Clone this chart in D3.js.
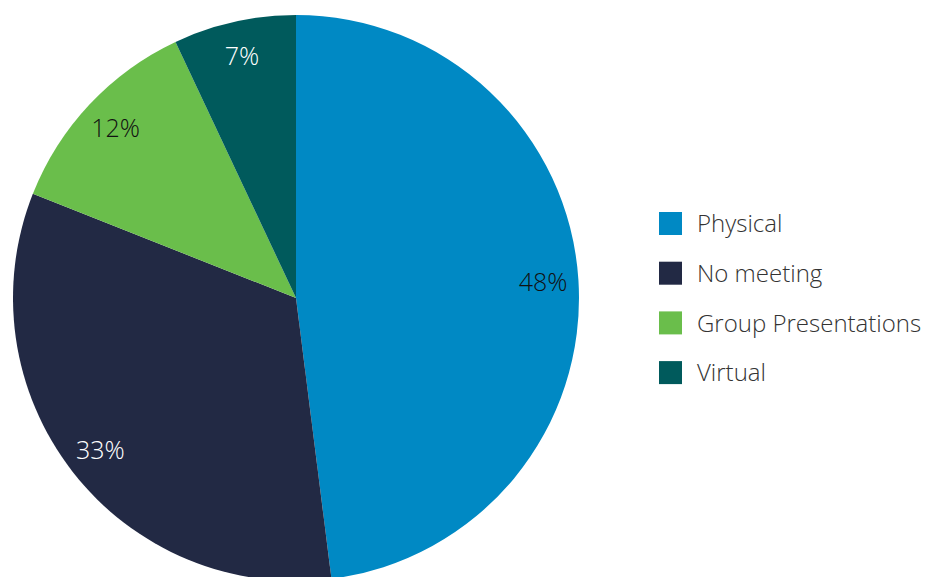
<!DOCTYPE html>
<html>
<head>
<meta charset="utf-8">
<script src="https://cdn.jsdelivr.net/npm/d3@7"></script>
<style>
  html, body { margin: 0; padding: 0; background: #fff; }
  svg { display: block; font-family: "Open Sans", sans-serif; font-weight: 300; }
</style>
</head>
<body>
<svg id="chart" width="932" height="577"></svg>
<script>
// Meeting format shares (percent)
const categories = ["Physical", "No meeting", "Group Presentations", "Virtual"];
const values = [48, 33, 12, 7];
const colors = ["#0089C4", "#222944", "#6ABE4B", "#005A5C"];
const labelColors = ["#111111", "#ffffff", "#111111", "#ffffff"];

const svg = d3.select("#chart");
const cx = 296, cy = 298, radius = 283;

const data = categories.map((c, i) => ({ name: c, value: values[i], i }));

const pie = d3.pie().value(d => d.value).sort(null);
const arc = d3.arc().innerRadius(0).outerRadius(radius);
const labelArc = d3.arc().innerRadius(radius * 0.875).outerRadius(radius * 0.875);

const color = d3.scaleOrdinal().domain(categories).range(colors);

const g = svg.append("g").attr("transform", `translate(${cx},${cy})`);
const arcs = pie(data);

g.selectAll("path.slice")
  .data(arcs)
  .join("path")
  .attr("class", "slice")
  .attr("d", arc)
  .attr("fill", d => color(d.data.name));

g.selectAll("text.pct")
  .data(arcs)
  .join("text")
  .attr("class", "pct")
  .attr("transform", d => `translate(${labelArc.centroid(d)})`)
  .attr("text-anchor", "middle")
  .attr("dy", "0.36em")
  .attr("font-size", 25)
  .attr("fill", d => labelColors[d.data.i])
  .text(d => `${d.data.value}%`);

// Legend
const legend = svg.append("g").attr("transform", "translate(659,212)");
const rowStep = 49.7;
const rows = legend.selectAll("g.row")
  .data(data)
  .join("g")
  .attr("class", "row")
  .attr("transform", (d, i) => `translate(0,${i * rowStep})`);

rows.append("rect")
  .attr("width", 23)
  .attr("height", 23)
  .attr("fill", d => color(d.name));

rows.append("text")
  .attr("x", 38)
  .attr("y", 11.5)
  .attr("dy", "0.36em")
  .attr("font-size", 24)
  .attr("fill", "#333333")
  .text(d => d.name);
</script>
</body>
</html>
